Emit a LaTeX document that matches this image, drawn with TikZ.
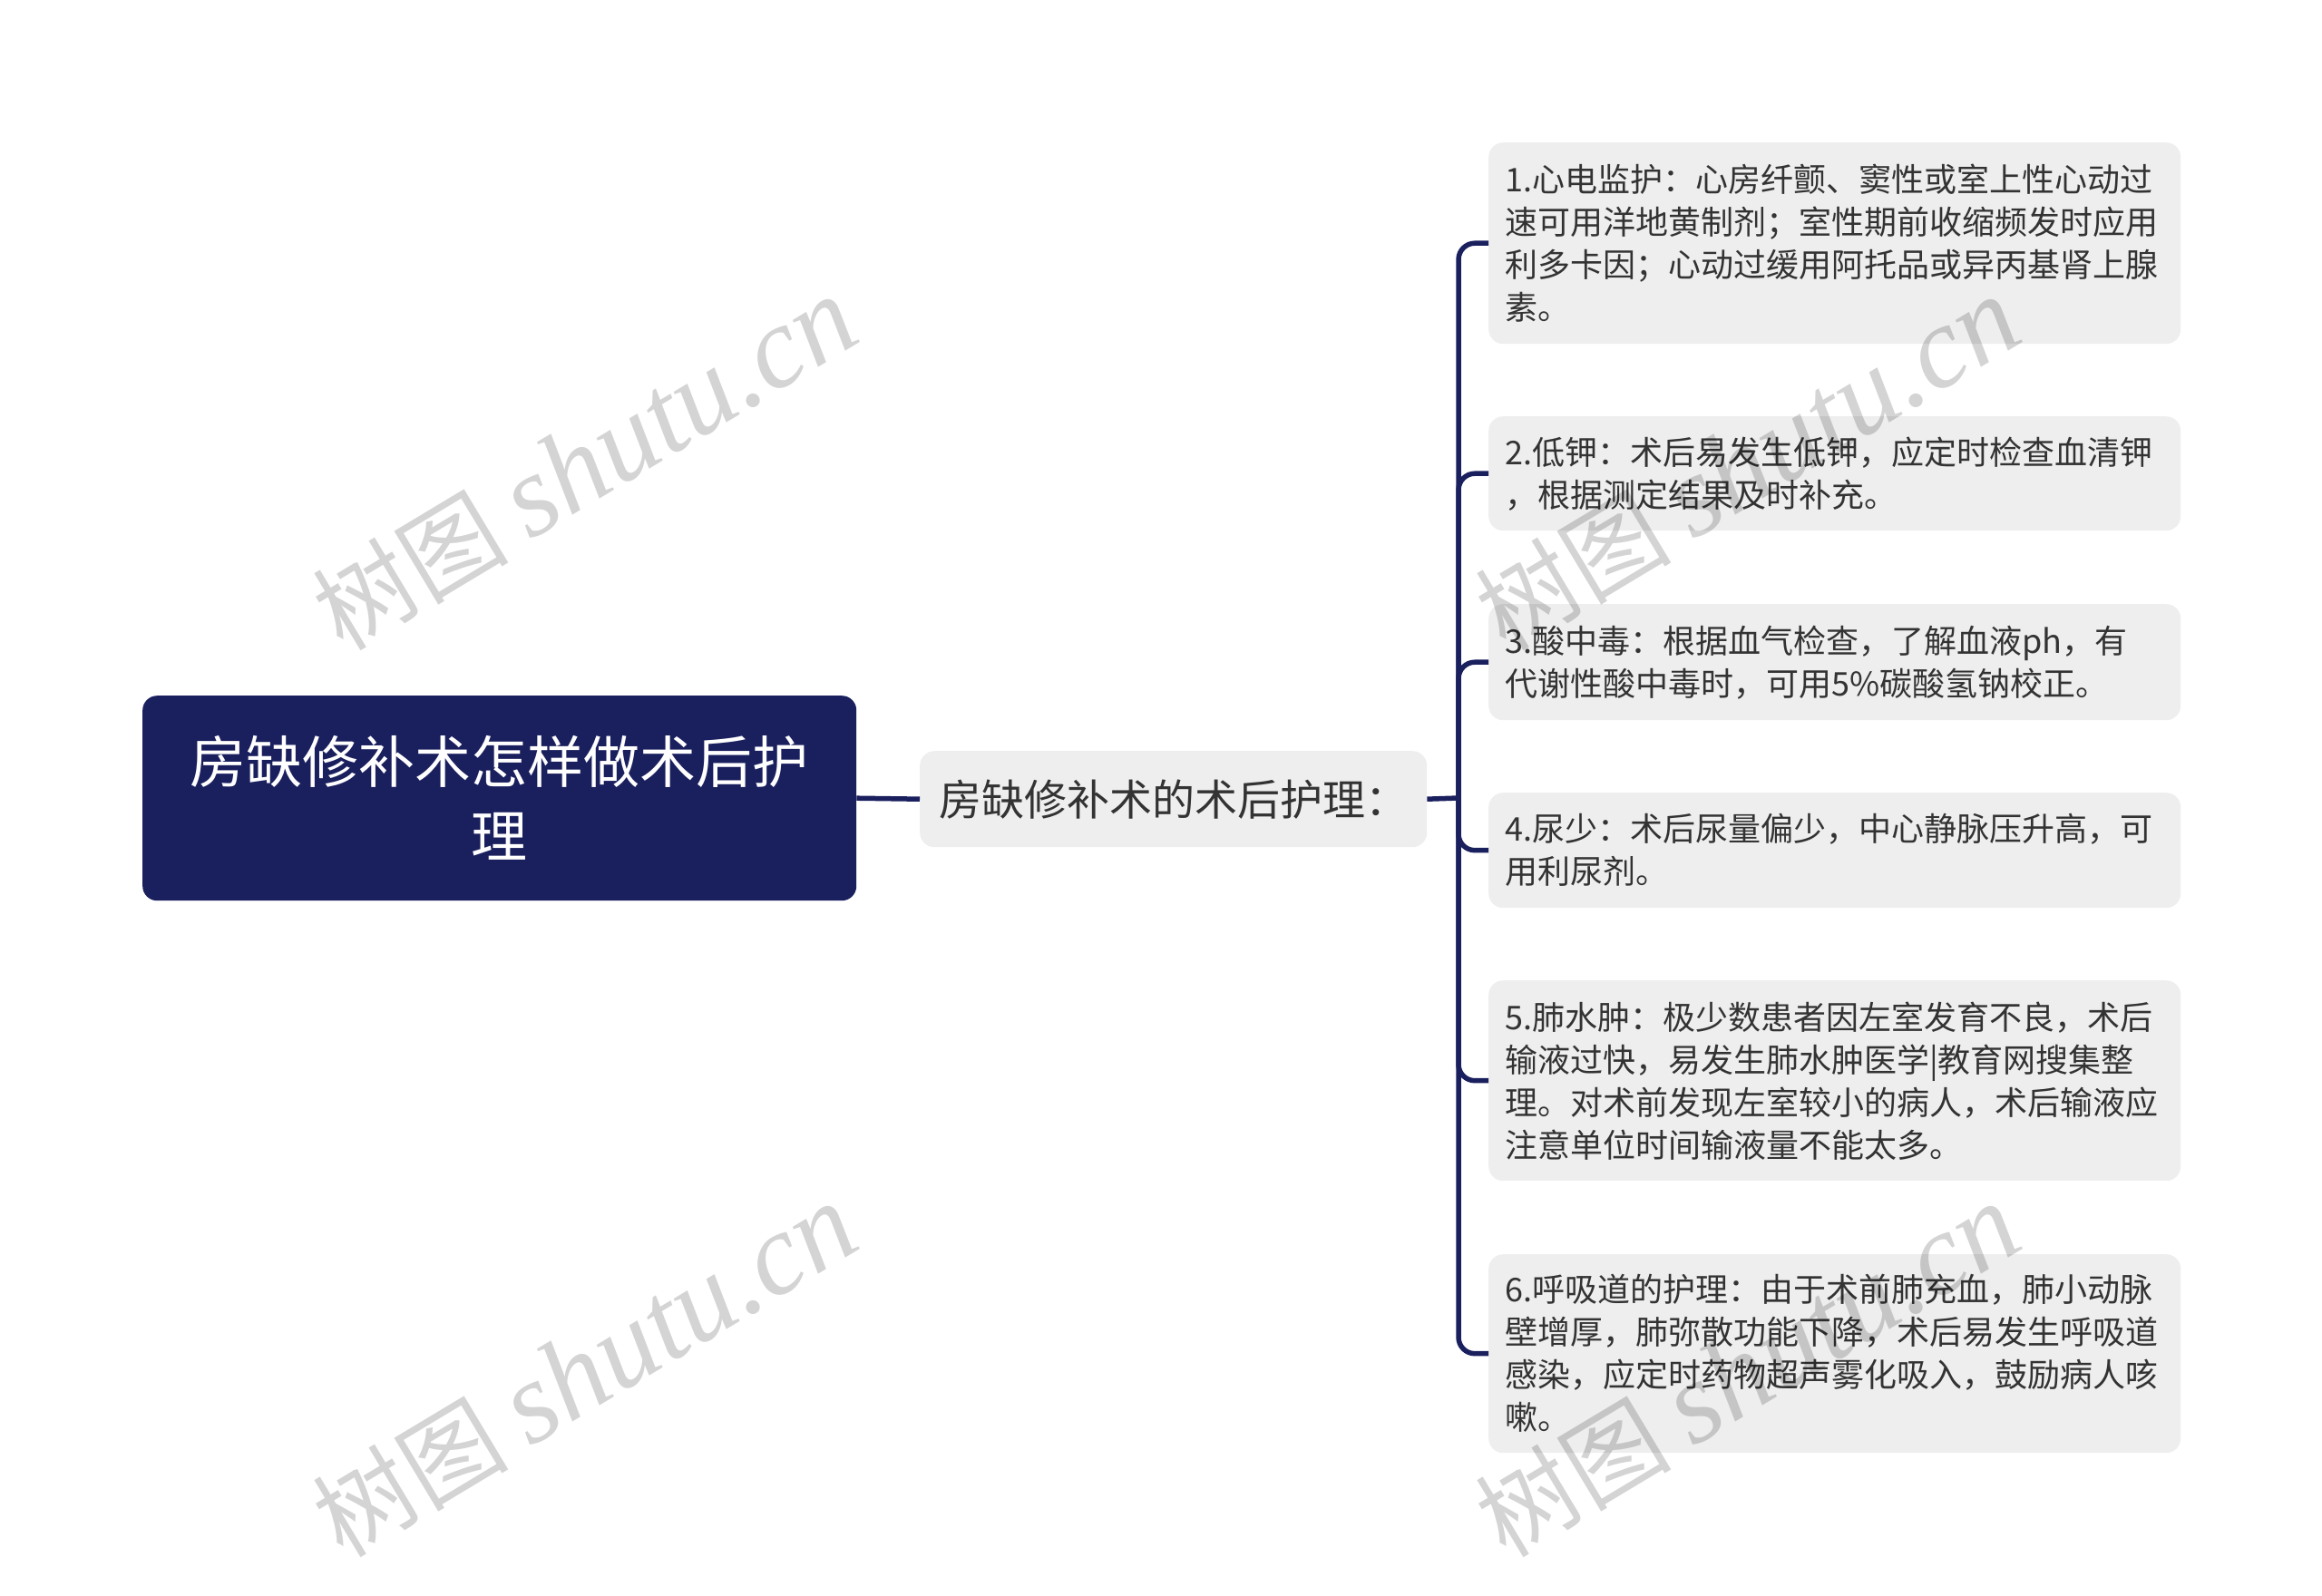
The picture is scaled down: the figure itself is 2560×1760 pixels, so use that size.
\documentclass[tikz,border=0pt]{standalone}
\usepackage{fontspec}
\setmainfont{Noto Sans CJK SC}
\newfontfamily\cjk{Noto Sans CJK SC}
\newfontfamily\wmlatin{Liberation Serif}
\definecolor{navy}{HTML}{1A1F5E}
\definecolor{boxgray}{HTML}{EEEEEE}
\definecolor{txt}{HTML}{333333}
\begin{document}
\begin{tikzpicture}[x=1pt,y=-1pt,
  rootbox/.style={fill=navy, rounded corners=16pt, text=white, align=center,
    font=\fontsize{62}{82}\selectfont\cjk, inner sep=0pt},
  midbox/.style={fill=boxgray, rounded corners=16pt, text=txt, align=center,
    font=\fontsize{47}{60}\selectfont\cjk, inner sep=0pt},
  leafbox/.style={fill=boxgray, rounded corners=16pt, text=txt, align=left,
    font=\fontsize{36}{47}\selectfont\cjk, inner xsep=18pt, inner ysep=0pt,
    text width=727pt, minimum width=763pt, anchor=north west},
  conn/.style={draw=navy, line width=5.5pt},
  wm/.style={text=black, opacity=0.17, font=\fontsize{108}{108}\selectfont, rotate=31}
]
\useasboundingbox (0,0) rectangle (2560,1760);

\node[rootbox, minimum width=787pt, minimum height=226pt, anchor=north west] (root) at (157,767)
  {房缺修补术怎样做术后护\\理};
\node[midbox, minimum width=559pt, minimum height=106pt, anchor=north west] (mid) at (1014,828)
  {房缺修补术的术后护理：};

\node[leafbox, minimum height=222pt] (c1) at (1641,157)
  {1.心电监护：心房纤颤、窦性或室上性心动过\\速可用洋地黄制剂；室性期前收缩频发时应用\\利多卡因；心动过缓用阿托品或异丙基肾上腺\\素。};
\node[leafbox, minimum height=126pt] (c2) at (1641,459)
  {2.低钾：术后易发生低钾，应定时检查血清钾\\，根据测定结果及时补充。};
\node[leafbox, minimum height=128pt] (c3) at (1641,666)
  {3.酸中毒：根据血气检查，了解血液ph，有\\代谢性酸中毒时，可用5\%碳酸氢钠校正。};
\node[leafbox, minimum height=127pt] (c4) at (1641,874)
  {4.尿少：术后尿量偏少，中心静脉压升高，可\\用利尿剂。};
\node[leafbox, minimum height=221pt] (c5) at (1641,1081)
  {5.肺水肿：极少数患者因左室发育不良，术后\\输液过快，易发生肺水肿医学|教育网搜集整\\理。对术前发现左室较小的病人，术后输液应\\注意单位时间输液量不能太多。};
\node[leafbox, minimum height=219pt] (c6) at (1641,1383)
  {6.呼吸道的护理：由于术前肺充血，肺小动脉\\壁增厚，肺弥散功能下降，术后易发生呼吸道\\感染，应定时药物超声雾化吸入，鼓励病人咳\\嗽。};

\draw[conn] (root.east) -- (mid.west);
\coordinate (j) at (1608,880);
\draw[conn] (mid.east) -- (j);
\foreach \c in {c1,c2,c3,c4,c5,c6}
  \draw[conn, rounded corners=18pt] (j) |- (\c.west);

\node[wm] (w1) at (645,512) {树图 {\wmlatin\itshape\fontsize{128}{128}\selectfont shutu.cn}};
\node[wm] (w2) at (645,1512) {树图 {\wmlatin\itshape\fontsize{128}{128}\selectfont shutu.cn}};
\node[wm] (w3) at (1927,512) {树图 {\wmlatin\itshape\fontsize{128}{128}\selectfont shutu.cn}};
\node[wm] (w4) at (1927,1512) {树图 {\wmlatin\itshape\fontsize{128}{128}\selectfont shutu.cn}};
\end{tikzpicture}
\end{document}
